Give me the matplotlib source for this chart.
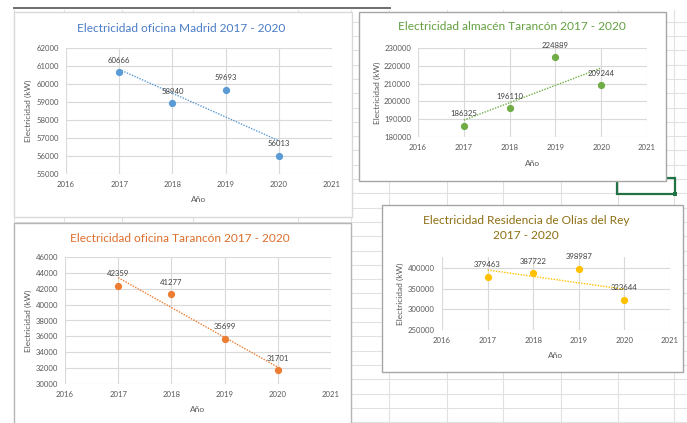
import numpy as np
import matplotlib.pyplot as plt
from matplotlib.lines import Line2D
from matplotlib.patches import Rectangle

plt.rcParams['font.family'] = ['Lato', 'DejaVu Sans']

W, H = 687, 423

# data
years = [2017, 2018, 2019, 2020]
madrid = [60666, 58940, 59693, 56013]
almacen = [186325, 196110, 224889, 209244]
oficina_tarancon = [42359, 41277, 35699, 31701]
olias = [379463, 387722, 398987, 323644]

madrid_ticks = list(range(55000, 62001, 1000))
almacen_ticks = list(range(180000, 230001, 10000))
tarancon_ticks = list(range(30000, 46001, 2000))
olias_ticks = list(range(250000, 400001, 50000))
x_ticks = list(range(2016, 2022))


def fx(x):
    return x / W


def fy(y):
    return 1 - y / H


def rect(x0, y0, x1, y1):
    return [x0 / W, 1 - y1 / H, (x1 - x0) / W, (y1 - y0) / H]


fig = plt.figure(figsize=(W / 100, H / 100), dpi=100)
fig.patch.set_facecolor('white')

# spreadsheet grid in the background
grid_c = '#E1E1E1'
for k in range(29):
    y = 21.7 + 14.3 * k
    fig.add_artist(Line2D([fx(14), fx(W)], [fy(y), fy(y)], color=grid_c, lw=0.8, zorder=-5))
for x in [14, 64, 122, 193, 298, 351, 389, 447, 503, 561, 618, 674]:
    fig.add_artist(Line2D([fx(x), fx(x)], [fy(10), fy(H)], color=grid_c, lw=0.8, zorder=-5))
fig.add_artist(Line2D([fx(14), fx(390)], [fy(8), fy(8)], color='#6E6E6E', lw=1.4, zorder=-4))

# selected cell
fig.add_artist(Rectangle((fx(617), fy(194)), (675 - 617) / W, 16 / H, transform=fig.transFigure,
                         fill=False, edgecolor='#217346', lw=1.6, zorder=-3))
fig.add_artist(Rectangle((fx(673), fy(196)), 4 / W, 4 / H, transform=fig.transFigure,
                         facecolor='#217346', edgecolor='none', zorder=-3))

charts = [
    dict(values=madrid, ticks=madrid_ticks, ylim=(55000, 62000),
         frame=(14, 12, 352, 217), frame_c='#D9D9D9', ax=(66, 48, 332, 174),
         title='Electricidad oficina Madrid 2017 - 2020', title_xy=(181, 29),
         title_c='#4A7CC6', color='#5B9BD5', ylab_x=28, xlab_y=200),
    dict(values=almacen, ticks=almacen_ticks, ylim=(180000, 230000),
         frame=(359, 12, 666, 181), frame_c='#A6A6A6', ax=(418, 48, 647, 137),
         title='Electricidad almacén Tarancón 2017 - 2020', title_xy=(512, 27),
         title_c='#62A03E', color='#70AD47', ylab_x=377, xlab_y=163),
    dict(values=oficina_tarancon, ticks=tarancon_ticks, ylim=(30000, 46000),
         frame=(14, 223, 351, 430), frame_c='#B5B5B5', ax=(65, 257, 331, 384),
         title='Electricidad oficina Tarancón 2017 - 2020', title_xy=(180, 238),
         title_c='#DD6E2C', color='#ED7D31', ylab_x=28, xlab_y=409),
    dict(values=olias, ticks=olias_ticks, ylim=(250000, 427500),
         frame=(382, 205, 683, 372), frame_c='#A6A6A6', ax=(442, 257, 670, 330),
         title='Electricidad Residencia de Olías del Rey\n2017 - 2020', title_xy=(526, 228),
         title_c='#8E6F14', color='#FFC000', ylab_x=400, xlab_y=355),
]

text_c = '#595959'

for c in charts:
    x0, y0, x1, y1 = c['frame']
    fig.add_artist(Rectangle((fx(x0), fy(y1)), (x1 - x0) / W, (y1 - y0) / H,
                             transform=fig.transFigure, facecolor='white',
                             edgecolor=c['frame_c'], lw=1.0, zorder=-1))

    ax = fig.add_axes(rect(*c['ax']))
    ax.set_zorder(3)
    ax.set_facecolor('white')
    ax.set_xlim(2016, 2021)
    ax.set_ylim(*c['ylim'])
    ax.set_xticks(x_ticks)
    ax.set_yticks(c['ticks'])
    ax.grid(True, color='#D9D9D9', lw=0.8)
    ax.set_axisbelow(True)
    for s in ax.spines.values():
        s.set_visible(False)
    ax.tick_params(length=0, labelsize=5.6, colors=text_c, pad=5)

    vals = np.array(c['values'])
    yrs = np.array(years)
    # linear trend line, as Excel does
    m, b = np.polyfit(yrs, vals, 1)
    ax.plot(yrs, m * yrs + b, color=c['color'], lw=1.0, ls=(0, (1, 1)), zorder=2)
    ax.plot(yrs, vals, 'o', color=c['color'], markersize=4.2, zorder=3, clip_on=False)
    for xv, yv in zip(yrs, vals):
        ax.annotate(str(yv), (xv, yv), xytext=(0, 8.6), textcoords='offset points',
                    ha='center', va='center', fontsize=5.6, color='#404040', zorder=4,
                    annotation_clip=False)

    ax.set_ylabel('Electricidad (kW)', fontsize=6, color=text_c)
    ax.yaxis.set_label_coords((c['ylab_x'] - c['ax'][0]) / (c['ax'][2] - c['ax'][0]), 0.5)
    ax.yaxis.label.set_va('center')
    ax.set_xlabel('Año', fontsize=6, color=text_c)
    ax.xaxis.set_label_coords(0.5, -(c['xlab_y'] - c['ax'][3]) / (c['ax'][3] - c['ax'][1]))
    ax.xaxis.label.set_va('center')

    tx, ty = c['title_xy']
    fig.text(fx(tx), fy(ty), c['title'], ha='center', va='center', fontsize=8.6,
             color=c['title_c'], linespacing=1.45, zorder=4)

fig.savefig('out.png', dpi=100)
